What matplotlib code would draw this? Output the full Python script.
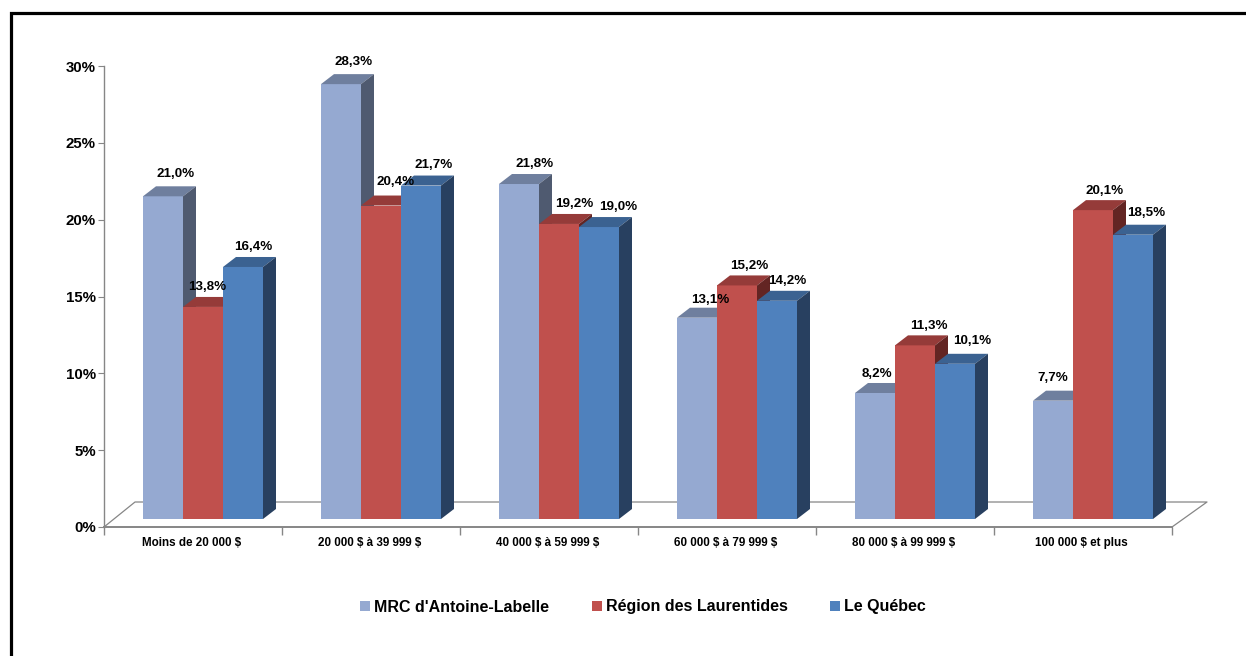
from __future__ import annotations

import matplotlib

matplotlib.use("Agg")
import matplotlib.pyplot as plt
from matplotlib.lines import Line2D
from matplotlib.patches import Patch

categories = [
    "Moins de 20 000 \\$",
    "20 000 \\$ à 39 999 \\$",
    "40 000 \\$ à 59 999 \\$",
    "60 000 \\$ à 79 999 \\$",
    "80 000 \\$ à 99 999 \\$",
    "100 000 \\$ et plus",
]
series_names = ["MRC d'Antoine-Labelle", "Région des Laurentides", "Le Québec"]
mrc = [21.0, 28.3, 21.8, 13.1, 8.2, 7.7]
region = [13.8, 20.4, 19.2, 15.2, 11.3, 20.1]
quebec = [16.4, 21.7, 19.0, 14.2, 10.1, 18.5]
y_ticks = [0, 5, 10, 15, 20, 25, 30]

front_colors = ["#95A9D1", "#C0504D", "#4F81BD"]
top_colors = ["#6F7F9E", "#953B39", "#3B6291"]
side_colors = ["#4F5A70", "#632523", "#284060"]
line_color = "#868686"

# label offsets from the bar's top centre, in pixels
label_dx = [
    [13, 13, 16, 13, 2, 0],
    [4, 15, 15, 12, 14, 12],
    [10, 13, 19, 10, 17, 13],
]
label_dy = [
    [22, 22, 20, 18, 19, 23],
    [20, 24, 20, 19, 19, 19],
    [20, 21, 20, 20, 23, 22],
]

PX_X = 1 / 178
PX_Y = 1 / 15.37
FONT = "Liberation Sans"


def main() -> None:
    figure = plt.figure(figsize=(12.46, 6.56), dpi=100)
    axis = figure.add_axes(
        [104 / 1246, (656 - 527) / 656, (1172 - 104) / 1246, (527 - 66) / 656]
    )
    axis.set_xlim(0, 6)
    axis.set_ylim(0, 30)
    axis.patch.set_alpha(0)

    for name in ["top", "right"]:
        axis.spines[name].set_visible(False)
    axis.spines["left"].set_color(line_color)
    axis.spines["left"].set_linewidth(1.0)
    axis.spines["bottom"].set_color(line_color)
    axis.spines["bottom"].set_linewidth(1.4)

    axis.set_yticks(y_ticks)
    axis.set_yticklabels(
        [f"{tick}%" for tick in y_ticks],
        fontname=FONT,
        fontweight="bold",
        fontsize=10.8,
    )
    axis.tick_params(axis="y", length=4.3, width=0.8, color=line_color, pad=1.5)
    axis.set_xticks(range(7))
    axis.set_xticklabels([])
    axis.tick_params(axis="x", length=5.8, width=1.0, color=line_color)
    for index, category in enumerate(categories):
        axis.annotate(
            category,
            (index + 0.5, 0),
            xytext=(-1, -11.3),
            textcoords="offset points",
            ha="center",
            va="center",
            fontname=FONT,
            fontweight="bold",
            fontsize=8.4,
        )

    # floor of the 3D box
    floor_left = 31 * PX_X
    floor_right = 35 * PX_X
    floor_dy = 25 * PX_Y
    axis.plot(
        [0, floor_left, 6 + floor_right, 6],
        [0, floor_dy, floor_dy, 0],
        color=line_color,
        lw=0.9,
        clip_on=False,
        zorder=1,
    )

    base = 8 * PX_Y
    depth_x = 13 * PX_X
    depth_y = 10 * PX_Y
    width = 40 * PX_X
    start = 39 * PX_X
    zorder = 2
    for group in range(len(categories)):
        for k, values in enumerate([mrc, region, quebec]):
            value = values[group]
            left = group + start + k * width
            right = left + width
            top = base + value
            axis.bar(
                left,
                value,
                width=width,
                bottom=base,
                align="edge",
                color=front_colors[k],
                zorder=zorder,
                clip_on=False,
            )
            axis.fill(
                [left, left + depth_x, right + depth_x, right],
                [top, top + depth_y, top + depth_y, top],
                color=top_colors[k],
                lw=0,
                zorder=zorder,
                clip_on=False,
            )
            axis.fill(
                [right, right + depth_x, right + depth_x, right],
                [base, base + depth_y, top + depth_y, top],
                color=side_colors[k],
                lw=0,
                zorder=zorder,
                clip_on=False,
            )
            zorder += 1

    for k, values in enumerate([mrc, region, quebec]):
        for group, value in enumerate(values):
            axis.annotate(
                f"{value:.1f}%".replace(".", ","),
                (group + start + (k + 0.5) * width, base + value),
                xytext=(label_dx[k][group] * 0.72, label_dy[k][group] * 0.72),
                textcoords="offset points",
                ha="center",
                va="center",
                fontname=FONT,
                fontweight="bold",
                fontsize=9.6,
                zorder=50,
                annotation_clip=False,
            )

    handles = [Patch(facecolor=color) for color in front_colors]
    figure.legend(
        handles,
        series_names,
        loc="center",
        bbox_to_anchor=(643 / 1246, (656 - 607) / 656),
        ncol=3,
        frameon=False,
        prop={"family": FONT, "weight": "bold", "size": 11.5},
        handlelength=0.65,
        handleheight=0.65,
        handletextpad=0.25,
        columnspacing=2.65,
    )

    # black frame, open on the right and at the bottom
    figure.add_artist(
        Line2D(
            [10.5 / 1246, 10.5 / 1246, 1],
            [0, (656 - 12.5) / 656, (656 - 12.5) / 656],
            color="black",
            lw=2.3,
            solid_joinstyle="miter",
        )
    )

    figure.savefig("out.png", dpi=100)


if __name__ == "__main__":
    main()
